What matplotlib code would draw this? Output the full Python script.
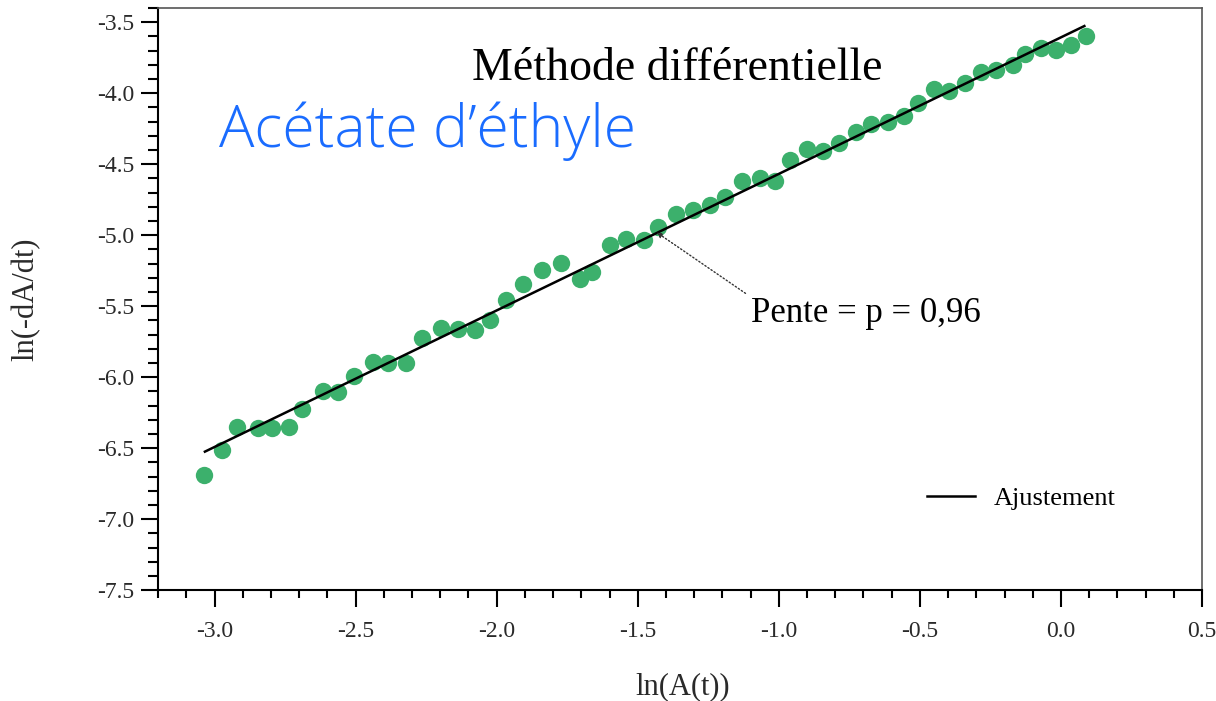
import matplotlib
matplotlib.use("Agg")
import matplotlib.pyplot as plt
from matplotlib.ticker import MultipleLocator

# Differential method data: ln(A(t)) vs ln(-dA/dt)
ln_A = [-3.037, -2.974, -2.921, -2.845, -2.797, -2.736, -2.689, -2.617, -2.564, -2.505,
        -2.440, -2.386, -2.322, -2.266, -2.199, -2.137, -2.078, -2.024, -1.968, -1.906,
        -1.839, -1.772, -1.706, -1.661, -1.599, -1.540, -1.478, -1.428, -1.363, -1.304,
        -1.245, -1.192, -1.131, -1.066, -1.015, -0.962, -0.901, -0.842, -0.785, -0.728,
        -0.673, -0.614, -0.558, -0.505, -0.449, -0.396, -0.340, -0.283, -0.230, -0.171,
        -0.126, -0.071, -0.018, 0.036, 0.089]
ln_rate = [-6.686, -6.512, -6.353, -6.357, -6.357, -6.353, -6.223, -6.094, -6.106, -5.988,
           -5.891, -5.900, -5.901, -5.722, -5.652, -5.659, -5.664, -5.595, -5.454, -5.346,
           -5.248, -5.198, -5.306, -5.260, -5.071, -5.024, -5.036, -4.942, -4.848, -4.820,
           -4.789, -4.731, -4.618, -4.594, -4.618, -4.467, -4.396, -4.406, -4.354, -4.272,
           -4.218, -4.202, -4.162, -4.066, -3.971, -3.985, -3.931, -3.853, -3.837, -3.802,
           -3.727, -3.680, -3.696, -3.661, -3.595]

# linear fit endpoints (slope 0.96)
fit_x = [-3.034, 0.083]
fit_y = [-6.524, -3.527]

serif = "Liberation Serif"
plt.rcParams["axes.unicode_minus"] = False

fig = plt.figure(figsize=(12.16, 7.01), dpi=100)
ax = fig.add_axes([0.13, 0.158, 0.8585, 0.8306])

ax.plot(ln_A, ln_rate, "o", color="#3cb06c", markersize=12.5, markeredgewidth=0, zorder=2)
ax.plot(fit_x, fit_y, color="black", linewidth=1.8, label="Ajustement", zorder=3)

ax.set_xlim(-3.2, 0.5)
ax.set_ylim(-7.5, -3.4)
ax.xaxis.set_major_locator(MultipleLocator(0.5))
ax.xaxis.set_minor_locator(MultipleLocator(0.1))
ax.yaxis.set_major_locator(MultipleLocator(0.5))
ax.yaxis.set_minor_locator(MultipleLocator(0.1))

ax.tick_params(axis="both", which="both", direction="out", width=1.5,
               top=False, right=False, labelsize=17, labelcolor="#2a2a2a")
ax.tick_params(axis="x", which="major", length=12, pad=10)
ax.tick_params(axis="x", which="minor", length=5.5)
ax.tick_params(axis="y", which="major", length=12, pad=5)
ax.tick_params(axis="y", which="minor", length=7)
for lab in ax.get_xticklabels() + ax.get_yticklabels():
    lab.set_fontfamily(serif)

ax.spines["left"].set_linewidth(1.5)
ax.spines["bottom"].set_linewidth(1.5)
ax.spines["top"].set_color("#555555")
ax.spines["right"].set_color("#555555")
ax.spines["top"].set_linewidth(1.2)
ax.spines["right"].set_linewidth(1.2)

ax.set_xlabel("ln(A(t))", fontsize=22, fontfamily=serif, color="#2a2a2a")
ax.set_ylabel("ln(-dA/dt)", fontsize=22, fontfamily=serif, color="#2a2a2a")
ax.xaxis.set_label_coords(0.503, -0.14)
ax.yaxis.set_label_coords(-0.113, 0.5)

ax.text(0.497, 0.895, "Méthode différentielle", transform=ax.transAxes,
        ha="center", va="center", fontsize=33, fontfamily=serif)

ax.annotate("Pente = p = 0,96", xy=(-1.433, -4.98), xytext=(-1.10, -5.55),
            fontsize=25, fontfamily=serif, va="center", ha="left",
            arrowprops=dict(arrowstyle="-|>", linestyle=":", color="#333333",
                            linewidth=1, mutation_scale=8, shrinkA=2, shrinkB=0,
                            relpos=(0, 1)))

ax.legend(loc="center left", bbox_to_anchor=(0.737, 0.158), frameon=False,
          borderpad=0, borderaxespad=0, handlelength=1.8, handletextpad=0.7,
          prop={"family": serif, "size": 19})

fig.text(0.18, 0.79, "Acétate d’éthyle", color="#1a6cff", fontsize=42.5,
         fontfamily="Open Sans", fontweight="light", va="baseline", ha="left")

fig.savefig("out.png", dpi=100, facecolor="white")
